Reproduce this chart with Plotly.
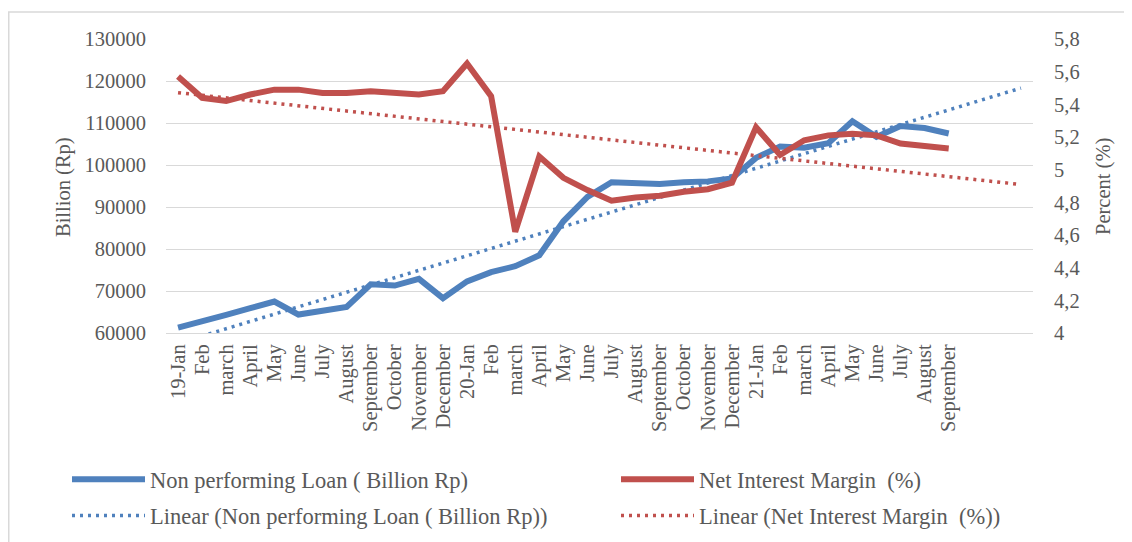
import numpy as np
import plotly.graph_objects as go

months_labels = ["19-Jan", "Feb", "march", "April", "May", "June", "July", "August",
                 "September", "October", "November", "December",
                 "20-Jan", "Feb", "march", "April", "May", "June", "July", "August",
                 "September", "October", "November", "December",
                 "21-Jan", "Feb", "march", "April", "May", "June", "July", "August",
                 "September"]

npl = [61300, 62700, 64300, 65900, 67500, 64400, 65200, 66200, 71600, 71300, 72900,
       68300, 72300, 74500, 75900, 78500, 86600, 92400, 95900, 95800, 95500, 95900,
       96100, 96800, 101700, 104400, 104100, 105200, 110400, 106700, 109300, 108800,
       107500]

nim = [5.57, 5.44, 5.42, 5.46, 5.49, 5.49, 5.47, 5.47, 5.48, 5.47, 5.46,
       5.48, 5.65, 5.45, 4.62, 5.08, 4.95, 4.875, 4.81, 4.83, 4.84, 4.865,
       4.88, 4.92, 5.26, 5.09, 5.18, 5.21, 5.22, 5.21, 5.16, 5.145, 5.13]

left_ticks = [60000, 70000, 80000, 90000, 100000, 110000, 120000, 130000]
right_ticks = [4.0, 4.2, 4.4, 4.6, 4.8, 5.0, 5.2, 5.4, 5.6, 5.8]
right_tick_labels = ["4", "4,2", "4,4", "4,6", "4,8", "5", "5,2", "5,4", "5,6", "5,8"]

forecast_forward = 3

blue = "#4F81BD"
red = "#C0504D"
grey_txt = "#595959"
font_family = "Liberation Serif"

idx = np.arange(len(npl))
idx_ext = np.arange(len(npl) + forecast_forward)
b_npl = np.polyfit(idx, npl, 1)
b_nim = np.polyfit(idx, nim, 1)
trend_npl = np.polyval(b_npl, idx_ext)
trend_nim = np.polyval(b_nim, idx_ext)

fig = go.Figure()
fig.add_trace(go.Scatter(x=idx, y=npl, mode="lines", name="Non performing Loan ( Billion Rp)",
                         line=dict(color=blue, width=6), legend="legend", legendgroup="a"))
fig.add_trace(go.Scatter(x=idx_ext, y=trend_npl, mode="lines",
                         name="Linear (Non performing Loan ( Billion Rp))",
                         line=dict(color=blue, width=3.5, dash="3px,5px"), legend="legend",
                         legendgroup="b"))
fig.add_trace(go.Scatter(x=idx, y=nim, mode="lines", name="Net Interest Margin  (%)",
                         line=dict(color=red, width=6), yaxis="y2", legend="legend2",
                         legendgroup="c"))
fig.add_trace(go.Scatter(x=idx_ext, y=trend_nim, mode="lines",
                         name="Linear (Net Interest Margin  (%))",
                         line=dict(color=red, width=3.5, dash="3px,5px"), yaxis="y2",
                         legend="legend2", legendgroup="d"))

W, H = 1132, 542
# plot area in figure pixels
PL, PR, PT, PB = 158, 1025, 31, 325
PW, PH = PR - PL, PB - PT

legend_common = dict(xref="container", yref="container", orientation="v",
                     itemwidth=73, tracegroupgap=4, traceorder="grouped",
                     bgcolor="rgba(0,0,0,0)", xanchor="left", yanchor="top")

title_font = dict(family=font_family, size=20.5, color=grey_txt)

fig.update_layout(
    width=W, height=H,
    margin=dict(l=PL, r=W - PR, t=PT, b=H - PB, autoexpand=False),
    paper_bgcolor="white", plot_bgcolor="white",
    font=dict(family=font_family, size=20.5, color=grey_txt),
    showlegend=True,
    legend=dict(x=59 / W, y=1 - 450 / H, **legend_common),
    legend2=dict(x=608 / W, y=1 - 450 / H, **legend_common),
    xaxis=dict(range=[-0.5, len(npl) + forecast_forward - 0.5],
               tickmode="array", tickvals=list(idx), ticktext=months_labels,
               tickangle=-90, showgrid=False, zeroline=False, showline=True,
               linecolor="#D9D9D9", linewidth=1.3, ticks="", ticklabelstandoff=2,
               automargin=False, tickfont=dict(size=20.5)),
    yaxis=dict(range=[60000, 130000], tickmode="array", tickvals=left_ticks,
               tickformat="d", showgrid=True, gridcolor="#D9D9D9", gridwidth=1.3,
               zeroline=False, ticks="", ticklabelstandoff=19, automargin=False),
    yaxis2=dict(range=[4, 5.8], tickmode="array", tickvals=right_ticks,
                ticktext=right_tick_labels, overlaying="y", side="right",
                showgrid=False, zeroline=False, ticks="", ticklabelstandoff=20,
                automargin=False),
    annotations=[
        dict(text="Billion (Rp)", xref="paper", yref="paper",
             x=(55 - PL) / PW, y=(PB - 179) / PH, xanchor="center", yanchor="middle",
             textangle=-90, showarrow=False, font=title_font),
        dict(text="Percent (%)", xref="paper", yref="paper",
             x=(1095 - PL) / PW, y=(PB - 179) / PH, xanchor="center", yanchor="middle",
             textangle=-90, showarrow=False, font=title_font),
    ],
    shapes=[dict(type="rect", xref="paper", yref="paper",
                 x0=(0.75 - PL) / PW, x1=1.3, y0=-1.0, y1=(PB - 4) / PH,
                 line=dict(color="#D9D9D9", width=1.5), fillcolor="rgba(0,0,0,0)",
                 layer="below")],
)
fig.update_layout(legend_font=dict(family=font_family, size=22.5, color=grey_txt),
                  legend2_font=dict(family=font_family, size=22.5, color=grey_txt))

fig.write_html("out.html")
